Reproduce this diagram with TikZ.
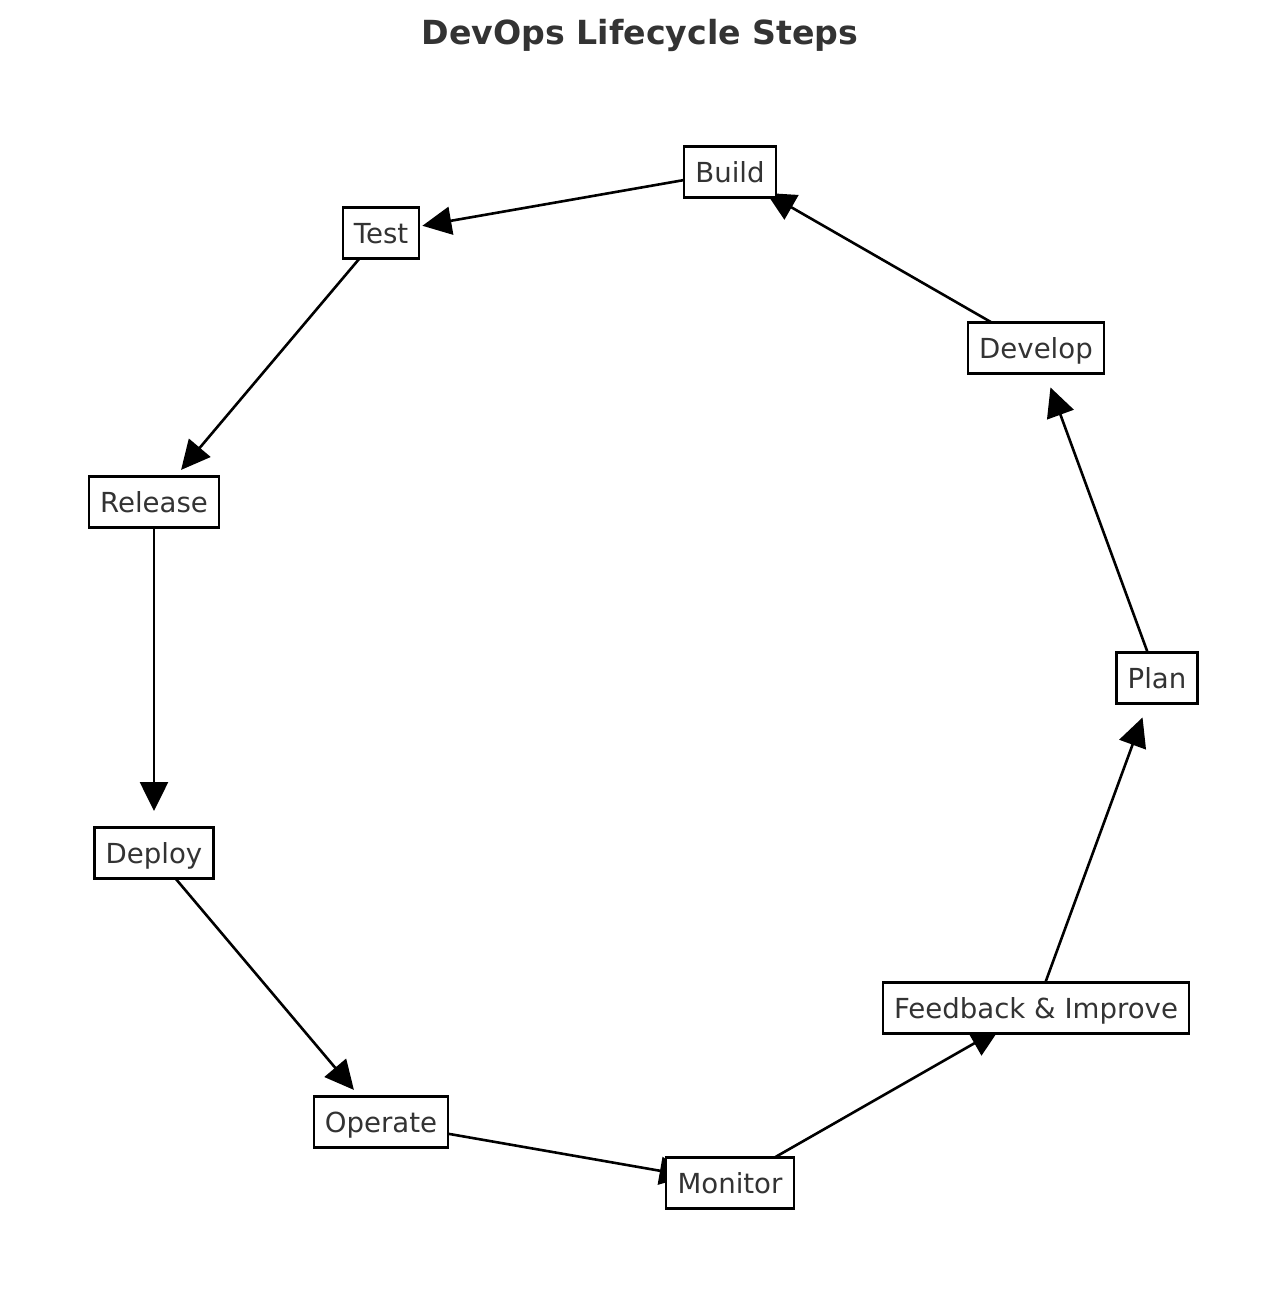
\documentclass[tikz,border=0pt]{standalone}
\usepackage{fontspec}
\setmainfont{DejaVu Sans}
\usetikzlibrary{arrows.meta,backgrounds}
\definecolor{labelgray}{HTML}{333333}

\tikzset{
  stepbox/.style = {draw = black, fill = white, line width = 1.1pt, text = labelgray,
    font = \fontsize{13.8pt}{16pt}\selectfont, inner xsep = 5.6pt, inner ysep = 0pt,
    text height = 12pt, text depth = 2pt, minimum height = 25.5pt},
  flow/.style = {line width = 1.3pt, -{Triangle[length = 14.5pt, width = 14pt]}, shorten > = 21pt}
}

\begin{document}
\begin{tikzpicture}[x = 0.5pt, y = -0.5pt]
            \useasboundingbox (0,0) rectangle (1280,1314);

            \node [text = labelgray, font = \fontsize{16.6pt}{20pt}\selectfont\bfseries] (title) at (640,35) {DevOps Lifecycle Steps};

            % the nine steps round the circle
            \node [stepbox] (build) at (730,172) {Build};
            \node [stepbox] (test) at (381,233) {Test};
            \node [stepbox] (release) at (154,502) {Release};
            \node [stepbox] (deploy) at (154,853) {Deploy};
            \node [stepbox] (operate) at (381,1122) {Operate};
            \node [stepbox] (monitor) at (730,1183) {Monitor};
            \node [stepbox] (feedback) at (1036,1008) {Feedback \& Improve};
            \node [stepbox] (plan) at (1157,678) {Plan};
            \node [stepbox] (develop) at (1036,348) {Develop};

            \begin{scope}[on background layer]
                \draw [flow] (plan.center) -- (develop.center);
                \draw [flow] (develop.center) -- (build.center);
                \draw [flow] (build.center) -- (test.center);
                \draw [flow] (test.center) -- (release.center);
                \draw [flow] (release.center) -- (deploy.center);
                \draw [flow] (deploy.center) -- (operate.center);
                \draw [flow] (operate.center) -- (monitor.center);
                \draw [flow] (monitor.center) -- (feedback.center);
                \draw [flow] (feedback.center) -- (plan.center);
            \end{scope}
        \end{tikzpicture}
\end{document}
